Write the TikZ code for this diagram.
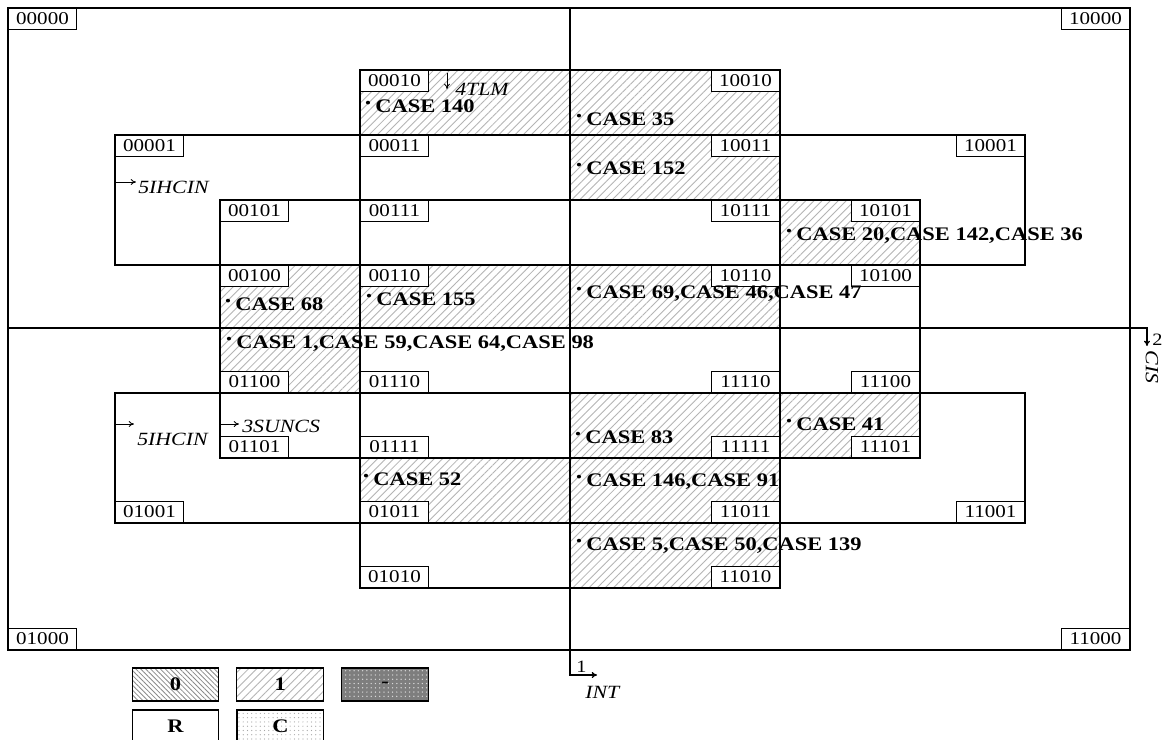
\documentclass[tikz,border=0pt]{standalone}
\usepackage{fontspec}
\setmainfont[FakeStretch=1.17]{Liberation Serif}
\usetikzlibrary{arrows.meta,patterns.meta,positioning}
\definecolor{hatchgray}{HTML}{B4B4B4}
\definecolor{densegray}{HTML}{8A8A8A}
\definecolor{dashgray}{HTML}{7E7E7E}
\newcommand{\casedot}{\raisebox{0.22em}{\fontsize{10}{10}\selectfont\textbullet}\hspace{3.5pt}}
\tikzset{
  cellline/.style={line width=1pt, draw=black},
  onecell/.style={pattern={Lines[angle=45,distance=4.3pt,line width=0.65pt]},
    pattern color=hatchgray},
  codetag/.style={rectangle, draw=black, fill=white, line width=0.75pt,
    inner sep=1pt, minimum width=51pt, minimum height=15.75pt,
    font=\fontsize{13.5}{14}\selectfont},
  casetext/.style={inner sep=0pt, anchor=base west,
    font=\fontsize{14.4}{16}\selectfont\bfseries},
  vartext/.style={inner sep=0pt, anchor=base west,
    font=\fontsize{14}{16}\selectfont\itshape},
  tagarrow/.style={-{To[length=4pt,width=4.5pt]}, line width=0.6pt},
  legendbox/.style={rectangle, draw=black, line width=0.9pt,
    minimum width=65pt, minimum height=24.75pt,
    font=\fontsize{14.4}{16}\selectfont\bfseries},
}

\begin{document}
\begin{tikzpicture}[x=0.75pt, y=-0.75pt, node distance=12.75pt]
\useasboundingbox (0,0) rectangle (1167,739);
\clip (0,0) rectangle (1167,739);
\fill[white] (0,0) rectangle (1167,739);
% hatched cells
\fill[onecell] (360,70) rectangle (780,135);
\fill[onecell] (570,135) rectangle (780,200);
\fill[onecell] (780,200) rectangle (920,265);
\fill[onecell] (220,265) rectangle (780,328);
\fill[onecell] (220,328) rectangle (360,393);
\fill[onecell] (570,393) rectangle (920,458);
\fill[onecell] (360,458) rectangle (780,523);
\fill[onecell] (570,523) rectangle (780,588);
% grid
\draw[cellline] (8,8) rectangle (1130,650);
\draw[cellline] (360,70) rectangle (780,135);
\draw[cellline] (115,135) rectangle (1025,265);
\draw[cellline] (115,393) rectangle (1025,523);
\draw[cellline] (220,200) rectangle (920,458);
\draw[cellline] (360,70) -- (360,588) -- (780,588) -- (780,70);
% axes
\coordinate (inttop) at (570,8);
\coordinate (intend) at (597,675);
\coordinate (cisleft) at (8,328);
\coordinate (cisend) at (1147,346);
\draw[cellline, -{To[length=4pt,width=4.5pt]}] (inttop) |- (intend);
\draw[cellline, -{To[length=4pt,width=4.5pt]}] (cisleft) -| (cisend);
\node[vartext, font=\fontsize{13}{14}\selectfont] (intone) at (576,672) {1};
\node[vartext] (intname) at (585,698) {INT};
\node[vartext, font=\fontsize{13}{14}\selectfont] (cistwo) at (1152,345) {2};
\node[vartext, anchor=center, rotate=-90] (cisname) at (1152,367) {CIS};
% variable arrows
\coordinate (tlmtop) at (447,73);
\coordinate (tlmend) at (447,89);
\draw[tagarrow] (tlmtop) -- (tlmend);
\node[vartext] (tlm) at (455,95) {4TLM};
\coordinate (ihctop) at (116,182);
\coordinate (ihcend) at (136,182);
\draw[tagarrow] (ihctop) -- (ihcend);
\node[vartext] (ihcin) at (138,193) {5IHCIN};
\coordinate (ihbtop) at (116,424);
\coordinate (ihbend) at (134,424);
\draw[tagarrow] (ihbtop) -- (ihbend);
\node[vartext] (ihcinb) at (137,445) {5IHCIN};
\coordinate (sunstart) at (221,424);
\coordinate (sunend) at (239,424);
\draw[tagarrow] (sunstart) -- (sunend);
\node[vartext] (suncs) at (242,432) {3SUNCS};
% code tags
\node[codetag, anchor=north west] (c00000) at (8,8) {00000};
\node[codetag, anchor=north west] (c00010) at (360,70) {00010};
\node[codetag, anchor=north west] (c00001) at (115,135) {00001};
\node[codetag, anchor=north west] (c00011) at (360,135) {00011};
\node[codetag, anchor=north west] (c00101) at (220,200) {00101};
\node[codetag, anchor=north west] (c00111) at (360,200) {00111};
\node[codetag, anchor=north west] (c00100) at (220,265) {00100};
\node[codetag, anchor=north west] (c00110) at (360,265) {00110};
\node[codetag, anchor=north east] (c10000) at (1130,8) {10000};
\node[codetag, anchor=north east] (c10010) at (780,70) {10010};
\node[codetag, anchor=north east] (c10011) at (780,135) {10011};
\node[codetag, anchor=north east] (c10001) at (1025,135) {10001};
\node[codetag, anchor=north east] (c10111) at (780,200) {10111};
\node[codetag, anchor=north east] (c10101) at (920,200) {10101};
\node[codetag, anchor=north east] (c10110) at (780,265) {10110};
\node[codetag, anchor=north east] (c10100) at (920,265) {10100};
\node[codetag, anchor=south west] (c01100) at (220,393) {01100};
\node[codetag, anchor=south west] (c01110) at (360,393) {01110};
\node[codetag, anchor=south west] (c01101) at (220,458) {01101};
\node[codetag, anchor=south west] (c01111) at (360,458) {01111};
\node[codetag, anchor=south west] (c01001) at (115,523) {01001};
\node[codetag, anchor=south west] (c01011) at (360,523) {01011};
\node[codetag, anchor=south west] (c01010) at (360,588) {01010};
\node[codetag, anchor=south west] (c01000) at (8,650) {01000};
\node[codetag, anchor=south east] (c11110) at (780,393) {11110};
\node[codetag, anchor=south east] (c11100) at (920,393) {11100};
\node[codetag, anchor=south east] (c11111) at (780,458) {11111};
\node[codetag, anchor=south east] (c11101) at (920,458) {11101};
\node[codetag, anchor=south east] (c11011) at (780,523) {11011};
\node[codetag, anchor=south east] (c11001) at (1025,523) {11001};
\node[codetag, anchor=south east] (c11010) at (780,588) {11010};
\node[codetag, anchor=south east] (c11000) at (1130,650) {11000};
% cases
\node[casetext] (case140) at (365,112) {\casedot CASE 140};
\node[casetext] (case35) at (576,125) {\casedot CASE 35};
\node[casetext] (case152) at (576,174) {\casedot CASE 152};
\node[casetext] (case20) at (786,240) {\casedot CASE 20,CASE 142,CASE 36};
\node[casetext] (case68) at (225,310) {\casedot CASE 68};
\node[casetext] (case155) at (366,305) {\casedot CASE 155};
\node[casetext] (case69) at (576,298) {\casedot CASE 69,CASE 46,CASE 47};
\node[casetext] (case1) at (226,348) {\casedot CASE 1,CASE 59,CASE 64,CASE 98};
\node[casetext] (case41) at (786,430) {\casedot CASE 41};
\node[casetext] (case83) at (575,443) {\casedot CASE 83};
\node[casetext] (case52) at (363,485) {\casedot CASE 52};
\node[casetext] (case146) at (576,486) {\casedot CASE 146,CASE 91};
\node[casetext] (case5) at (576,550) {\casedot CASE 5,CASE 50,CASE 139};
% legend
\node[legendbox, pattern={Lines[angle=-45,distance=2.6pt,line width=0.6pt]},
  pattern color=densegray] (legzero) at (175.5,684.5) {0};
\node[legendbox, onecell, right=of legzero] (legone) {1};
\node[legendbox, preaction={fill=dashgray},
  pattern={Dots[radius=0.55pt,distance=3.2pt]}, pattern color=gray!30,
  right=of legone] (legdash) {-};
\node[legendbox, fill=white, below=6pt of legzero] (legr) {R};
\node[legendbox, pattern={Dots[radius=0.45pt,distance=3.2pt]},
  pattern color=gray!70, right=of legr] (legc) {C};
\end{tikzpicture}
\end{document}
